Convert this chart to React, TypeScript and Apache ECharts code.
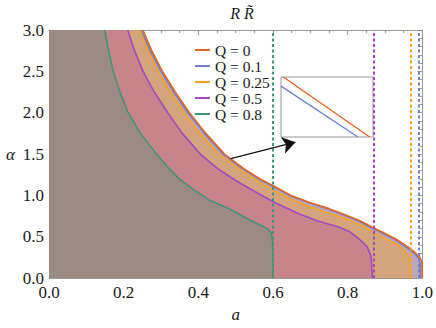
import React, { useEffect, useRef } from "react";
import * as echarts from "echarts";

// ---- data ----
const Q_LABELS = ["Q = 0", "Q = 0.1", "Q = 0.25", "Q = 0.5", "Q = 0.8"];
const A_MAX = [1.0, 0.995, 0.968, 0.866, 0.6];
const LINE_COLORS = ["#E8641E", "#6E80D2", "#F5A31B", "#A547C6", "#3E9679"];
const FILL_COLORS = ["#CFA49A", "#BCA6C2", "#D4A57D", "#C8848B", "#9C8A85"];

const X_TICKS = [0.0, 0.2, 0.4, 0.6, 0.8, 1.0];
const Y_TICKS = [0.0, 0.5, 1.0, 1.5, 2.0, 2.5, 3.0];

const A_Q0 = [0.2515, 0.275, 0.304, 0.338, 0.376, 0.42, 0.47, 0.52, 0.565, 0.603, 0.648, 0.7, 0.75, 0.784, 0.83, 0.866, 0.9, 0.93, 0.96, 0.98, 0.993, 0.999, 1.0];
const ALPHA_Q0 = [3.0, 2.75, 2.5, 2.25, 2.0, 1.75, 1.5, 1.33, 1.2, 1.11, 1.0, 0.91, 0.84, 0.78, 0.7, 0.615, 0.54, 0.47, 0.38, 0.31, 0.25, 0.2, 0.0];

const A_Q01 = [0.2475, 0.271, 0.3, 0.334, 0.372, 0.416, 0.466, 0.516, 0.561, 0.599, 0.644, 0.696, 0.745, 0.779, 0.825, 0.861, 0.895, 0.925, 0.955, 0.975, 0.988, 0.994, 0.995];
const ALPHA_Q01 = [3.0, 2.75, 2.5, 2.25, 2.0, 1.75, 1.5, 1.33, 1.2, 1.11, 1.0, 0.91, 0.84, 0.78, 0.7, 0.615, 0.54, 0.47, 0.38, 0.31, 0.25, 0.18, 0.0];

const A_Q025 = [0.2427, 0.265, 0.292, 0.325, 0.362, 0.405, 0.455, 0.5, 0.55, 0.603, 0.65, 0.7, 0.75, 0.8, 0.84, 0.866, 0.9, 0.936, 0.955, 0.963, 0.967, 0.968];
const ALPHA_Q025 = [3.0, 2.75, 2.5, 2.25, 2.0, 1.75, 1.5, 1.35, 1.2, 1.057, 0.95, 0.86, 0.785, 0.71, 0.63, 0.56, 0.48, 0.4, 0.32, 0.25, 0.18, 0.0];

const A_Q05 = [0.211, 0.229, 0.252, 0.282, 0.318, 0.357, 0.405, 0.453, 0.5, 0.55, 0.603, 0.669, 0.72, 0.776, 0.806, 0.829, 0.852, 0.863, 0.866];
const ALPHA_Q05 = [3.0, 2.75, 2.5, 2.25, 2.0, 1.75, 1.5, 1.32, 1.18, 1.05, 0.918, 0.778, 0.69, 0.619, 0.56, 0.479, 0.38, 0.26, 0.0];

const A_Q08 = [0.149, 0.16, 0.172, 0.19, 0.212, 0.245, 0.288, 0.323, 0.349, 0.39, 0.429, 0.483, 0.539, 0.584, 0.595, 0.599, 0.6];
const ALPHA_Q08 = [3.0, 2.75, 2.5, 2.25, 2.0, 1.75, 1.5, 1.317, 1.2, 1.06, 0.945, 0.838, 0.699, 0.599, 0.55, 0.45, 0.0];

const CURVES_A = [A_Q0, A_Q01, A_Q025, A_Q05, A_Q08];
const CURVES_ALPHA = [ALPHA_Q0, ALPHA_Q01, ALPHA_Q025, ALPHA_Q05, ALPHA_Q08];

// inset (zoom of Q = 0 and Q = 0.1 near the arrow tail)
const INSET_A_Q0 = [0.48025, 0.48964];
const INSET_ALPHA_Q0 = [1.47, 1.44];
const INSET_A_Q01 = [0.48, 0.48837];
const INSET_ALPHA_Q01 = [1.4654, 1.44];
const INSET_X_RANGE = [0.48, 0.49];
const INSET_Y_RANGE = [1.44, 1.47];

const ARROW_FROM = [0.487, 1.445];
const ARROW_TO = [0.66, 1.644];

const FONT = "'Liberation Serif', 'Times New Roman', serif";

const zip = (xs: number[], ys: number[]) => xs.map((x, i) => [x, ys[i]]);

export default function App() {
  const ref = useRef<HTMLDivElement>(null);
  useEffect(() => {
    if (!ref.current) return;
    const chart = echarts.init(ref.current, null, { renderer: "svg" });
    const frame = "#9a9a9a";
    const tickLabel = { fontFamily: FONT, fontSize: 17, color: "#1a1a1a" };

    const xStep = X_TICKS[1] - X_TICKS[0];
    const yStep = Y_TICKS[1] - Y_TICKS[0];

    const mainX = (pos: "bottom" | "top", labels: boolean) => ({
      type: "value",
      gridIndex: 0,
      position: pos,
      min: X_TICKS[0],
      max: X_TICKS[X_TICKS.length - 1],
      interval: xStep,
      axisLine: { show: true, onZero: false, lineStyle: { color: frame, width: 1 } },
      axisTick: { show: true, inside: true, length: 5, lineStyle: { color: frame } },
      minorTick: { show: true, splitNumber: 4, length: 3, lineStyle: { color: frame } },
      splitLine: { show: false },
      axisLabel: labels
        ? { show: true, margin: 6, formatter: (v: number) => v.toFixed(1), ...tickLabel }
        : { show: false },
      ...(labels
        ? {
            name: "a",
            nameLocation: "middle",
            nameGap: 25,
            nameTextStyle: { fontFamily: FONT, fontSize: 17, fontStyle: "italic", color: "#1a1a1a" },
          }
        : {}),
    });
    const mainY = (pos: "left" | "right", labels: boolean) => ({
      type: "value",
      gridIndex: 0,
      position: pos,
      min: Y_TICKS[0],
      max: Y_TICKS[Y_TICKS.length - 1],
      interval: yStep,
      axisLine: { show: true, onZero: false, lineStyle: { color: frame, width: 1 } },
      axisTick: { show: true, inside: true, length: 5, lineStyle: { color: frame } },
      minorTick: { show: true, splitNumber: 5, length: 3, lineStyle: { color: frame } },
      splitLine: { show: false },
      axisLabel: labels
        ? { show: true, margin: 5, formatter: (v: number) => v.toFixed(1), ...tickLabel }
        : { show: false },
      ...(labels
        ? {
            name: "α",
            nameLocation: "middle",
            nameGap: 34,
            nameRotate: 0,
            nameTextStyle: { fontFamily: FONT, fontSize: 17, fontStyle: "italic", color: "#1a1a1a" },
          }
        : {}),
    });

    const fillSeries = CURVES_A.map((xs, i) => ({
      name: "fill " + Q_LABELS[i],
      type: "line",
      xAxisIndex: 0,
      yAxisIndex: 0,
      z: 1,
      silent: true,
      showSymbol: false,
      symbol: "none",
      lineStyle: { width: 0, opacity: 0 },
      areaStyle: { color: FILL_COLORS[i], opacity: 1 },
      data: [[X_TICKS[0], Y_TICKS[Y_TICKS.length - 1]], ...zip(xs, CURVES_ALPHA[i])],
    }));

    const lineOrder = [4, 3, 2, 1, 0];
    const lineSeries = lineOrder.map((i) => {
      const s: any = {
        name: Q_LABELS[i],
        type: "line",
        xAxisIndex: 0,
        yAxisIndex: 0,
        z: 3,
        showSymbol: false,
        symbol: "none",
        color: LINE_COLORS[i],
        itemStyle: { color: LINE_COLORS[i] },
        lineStyle: { width: 1.6, color: LINE_COLORS[i] },
        data: zip(CURVES_A[i], CURVES_ALPHA[i]),
      };
      if (i !== 0) {
        s.markLine = {
          silent: true,
          symbol: "none",
          label: { show: false },
          lineStyle: { type: [3, 2.5], color: LINE_COLORS[i], width: 2 },
          data: [{ xAxis: A_MAX[i] }],
        };
      } else {
        s.markLine = {
          silent: true,
          symbol: ["none", "arrow"],
          symbolSize: 13,
          label: { show: false },
          itemStyle: { color: "#111" },
          lineStyle: { type: "solid", color: "#111", width: 1.2 },
          data: [[{ coord: ARROW_FROM }, { coord: ARROW_TO }]],
        };
      }
      return s;
    });

    const insetSeries = [
      {
        name: "inset Q0",
        type: "line",
        xAxisIndex: 2,
        yAxisIndex: 2,
        z: 10,
        showSymbol: false,
        symbol: "none",
        lineStyle: { width: 1.4, color: LINE_COLORS[0] },
        data: zip(INSET_A_Q0, INSET_ALPHA_Q0),
      },
      {
        name: "inset Q01",
        type: "line",
        xAxisIndex: 2,
        yAxisIndex: 2,
        z: 10,
        showSymbol: false,
        symbol: "none",
        lineStyle: { width: 1.4, color: LINE_COLORS[1] },
        data: zip(INSET_A_Q01, INSET_ALPHA_Q01),
      },
    ];

    chart.setOption({
      animation: false,
      backgroundColor: "#ffffff",
      title: {
        text: "R R\u0303",
        left: 237,
        top: 0,
        textAlign: "center",
        textStyle: { fontFamily: FONT, fontSize: 16, fontStyle: "italic", fontWeight: "normal", color: "#1a1a1a" },
      },
      legend: {
        orient: "vertical",
        left: 190,
        top: 37,
        icon: "rect",
        itemWidth: 15,
        itemHeight: 2,
        itemGap: 0,
        data: Q_LABELS,
        textStyle: { fontFamily: FONT, fontSize: 15.5, color: "#1a1a1a", lineHeight: 15.7 },
        selectedMode: false,
      },
      grid: [
        { left: 49, right: 12, top: 30, bottom: 48, show: false },
        { left: 281, top: 77, width: 92, height: 60, show: true, borderColor: "#999", borderWidth: 1, backgroundColor: "#ffffff", z: 0 },
      ],
      xAxis: [
        mainX("bottom", true),
        mainX("top", false),
        { type: "value", gridIndex: 1, min: INSET_X_RANGE[0], max: INSET_X_RANGE[1], show: false },
      ],
      yAxis: [
        mainY("left", true),
        mainY("right", false),
        { type: "value", gridIndex: 1, min: INSET_Y_RANGE[0], max: INSET_Y_RANGE[1], show: false },
      ],
      series: [...fillSeries, ...lineSeries, ...insetSeries],
    });
    return () => chart.dispose();
  }, []);
  return <div ref={ref} style={{ position: "fixed", left: 0, top: 0, width: 436, height: 328 }} />;
}
